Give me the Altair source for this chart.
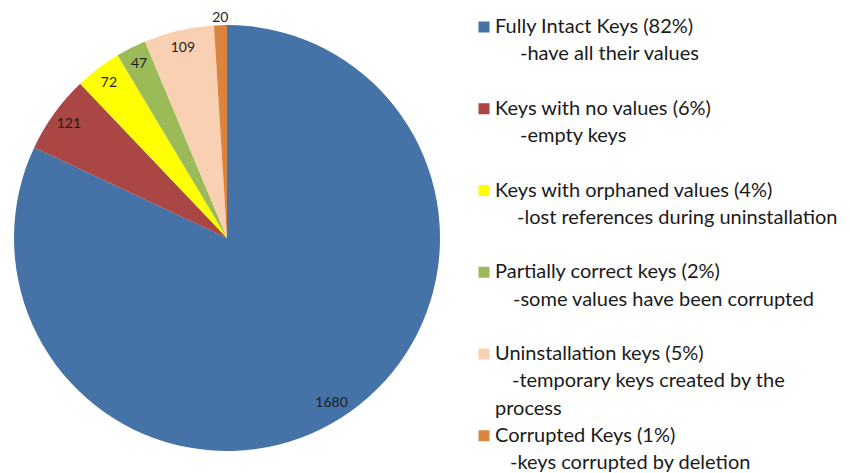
import altair as alt
import pandas as pd

# ---- data ----
categories = ["Fully Intact Keys", "Keys with no values", "Keys with orphaned values",
              "Partially correct keys", "Uninstallation keys", "Corrupted Keys"]
values = [1680, 121, 72, 47, 109, 20]
percent_labels = ["82%", "6%", "4%", "2%", "5%", "1%"]
descriptions = [["-have all their values"],
                ["-empty keys"],
                ["-lost references during uninstallation"],
                ["-some values have been corrupted"],
                ["-temporary keys created by the", "process"],
                ["-keys corrupted by deletion"]]
colors = ["#4572A7", "#AA4643", "#FFFF00", "#9BBB59", "#FAD0B2", "#DB843D"]

# ---- layout / style (not data) ----
W, H = 834, 465
CX, CY, R = 219, 230, 213
FONT = "Lato"
desc_x = [[512], [512], [509], [505], [504, 487], [502]]
title_x = 487
swatch_x = 476

pie_df = pd.DataFrame({
    "idx": list(range(len(categories))),
    "category": categories,
    "value": values,
})

color_scale = alt.Scale(domain=categories, range=colors)

base = alt.Chart(pie_df).encode(
    theta=alt.Theta("value:Q", stack=True),
    order=alt.Order("idx:Q"),
)

arcs = base.mark_arc(outerRadius=R, stroke=None).encode(
    color=alt.Color("category:N", scale=color_scale, legend=None),
    x=alt.value(CX), y=alt.value(CY),
)

labels_in = base.mark_text(font=FONT, fontSize=14, color="#1e1e1e", radius=195).encode(
    text=alt.condition("datum.idx < 5", alt.Text("value:Q"), alt.value("")),
    x=alt.value(CX), y=alt.value(CY),
)
labels_out = base.mark_text(font=FONT, fontSize=14, color="#1e1e1e", radius=220).encode(
    text=alt.condition("datum.idx == 5", alt.Text("value:Q"), alt.value("")),
    x=alt.value(CX), y=alt.value(CY),
)

# ---- legend built from the same arrays ----
rows = []
line = 0
for i, cat in enumerate(categories):
    rows.append({"line": line, "text": f"{cat} ({percent_labels[i]})", "xp": title_x,
                 "category": cat, "title": 1})
    line += 1
    for j, d in enumerate(descriptions[i]):
        rows.append({"line": line, "text": d, "xp": desc_x[i][j], "category": cat, "title": 0})
        line += 1
    if len(descriptions[i]) == 1 and i < 4:
        line += 1
leg_df = pd.DataFrame(rows)

yscale = alt.Scale(domain=[0, 16], range=[19, 19 + 16 * 27.25])

leg_text = alt.Chart(leg_df).mark_text(
    font=FONT, fontSize=20, align="left", baseline="middle", color="#1a1a1a"
).encode(
    x=alt.X("xp:Q", scale=None, axis=None),
    y=alt.Y("line:Q", scale=yscale, axis=None),
    text="text:N",
)

swatches = alt.Chart(leg_df).transform_filter("datum.title == 1").mark_square(
    size=121, opacity=1
).encode(
    x=alt.value(swatch_x),
    y=alt.Y("line:Q", scale=yscale, axis=None),
    color=alt.Color("category:N", scale=color_scale, legend=None),
)

chart = alt.layer(arcs, labels_in, labels_out, swatches, leg_text).resolve_scale(
    y="shared"
).properties(
    width=W, height=H,
    autosize=alt.AutoSizeParams(type="none"),
    padding=0,
).configure_view(stroke=None)

chart.save("out.html", embed_options={"renderer": "svg", "actions": False})
